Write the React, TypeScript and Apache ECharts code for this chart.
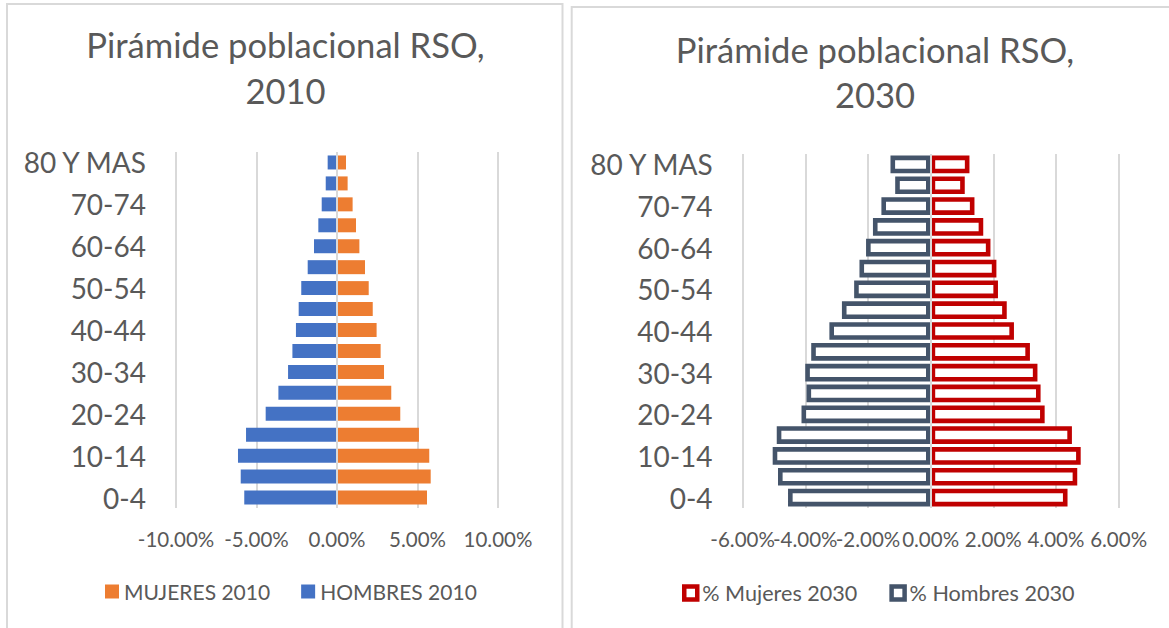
import React, { useEffect, useRef } from "react";
import * as echarts from "echarts";

const categories = ["0-4", "5-9", "10-14", "15-19", "20-24", "25-29", "30-34", "35-39", "40-44", "45-49", "50-54", "55-59", "60-64", "65-69", "70-74", "75-79", "80 Y MAS"];

const hombres2010 = [5.76, 5.98, 6.15, 5.65, 4.43, 3.64, 3.04, 2.77, 2.55, 2.38, 2.22, 1.82, 1.43, 1.16, 0.95, 0.70, 0.58];
const mujeres2010 = [5.59, 5.82, 5.73, 5.09, 3.93, 3.37, 2.92, 2.71, 2.46, 2.22, 1.97, 1.74, 1.39, 1.18, 0.97, 0.66, 0.56];
const hombres2030 = [4.55, 4.87, 5.04, 4.91, 4.12, 3.96, 4.00, 3.81, 3.23, 2.83, 2.44, 2.27, 2.06, 1.84, 1.57, 1.13, 1.28];
const mujeres2030 = [4.37, 4.68, 4.79, 4.51, 3.64, 3.51, 3.41, 3.17, 2.66, 2.43, 2.15, 2.10, 1.91, 1.68, 1.40, 1.09, 1.24];

const title1 = ["Pirámide poblacional RSO,", "2010"];
const title2 = ["Pirámide poblacional RSO,", "2030"];
const legend1 = ["MUJERES 2010", "HOMBRES 2010"];
const legend2 = ["% Mujeres 2030", "% Hombres 2030"];

const TXT = "#595959";
const GRID = "#d9d9d9";
const ORANGE = "#ED7D31";
const BLUE = "#4472C4";
const RED = "#C00000";
const SLATE = "#44546A";
const FONT = "Lato";

const pct = (v: number) => (Math.abs(v) < 1e-9 ? 0 : v).toFixed(2) + "%";

function outlineBar(color: string) {
  return (params: any, api: any) => {
    const v = api.value(0);
    const c = api.value(1);
    const a = api.coord([0, c]);
    const b = api.coord([v, c]);
    const band = api.size([0, 1])[1];
    const h = band * 0.85;
    const lw = 4.6;
    const x0 = Math.min(a[0], b[0]);
    const x1 = Math.max(a[0], b[0]);
    return {
      type: "rect",
      shape: { x: x0 + lw / 2, y: a[1] - h / 2 + lw / 2, width: Math.max(0, x1 - x0 - lw), height: h - lw },
      style: { fill: "#ffffff", stroke: color, lineWidth: lw },
    };
  };
}

export default function App() {
  const ref = useRef<HTMLDivElement>(null);
  useEffect(() => {
    if (!ref.current) return;
    const chart = echarts.init(ref.current, null, { renderer: "svg" });
    const labelBase = {
      color: TXT,
      fontSize: 20.5,
      fontFamily: FONT,
      margin: 20,
      hideOverlap: false,
    };
    const xAxisBase = (min: number, max: number, interval: number, gridIndex: number, showMin: boolean) => ({
      type: "value",
      gridIndex,
      position: "bottom",
      min,
      max,
      interval,
      axisLine: { show: false },
      axisTick: { show: false },
      splitLine: { show: true, lineStyle: { color: GRID, width: 2 } },
      axisLabel: { ...labelBase, formatter: pct, showMinLabel: showMin, showMaxLabel: true },
    });
    // second bottom axis of the right grid: carries only its first (minimum) label,
    // so that the overlapping -6.00% label is not dropped by the overlap check
    const xAxisMinOnly = (min: number, max: number, interval: number, gridIndex: number) => ({
      type: "value",
      gridIndex,
      position: "bottom",
      offset: 0,
      min,
      max,
      interval,
      axisLine: { show: false },
      axisTick: { show: false },
      splitLine: { show: false },
      axisLabel: {
        ...labelBase,
        showMinLabel: true,
        showMaxLabel: false,
        formatter: (v: number, i: number) => (i === 0 ? pct(v) : ""),
      },
    });
    const yAxisBase = (gridIndex: number) => ({
      type: "category",
      gridIndex,
      data: categories,
      axisLine: { show: false },
      axisTick: { show: false },
      splitLine: { show: false },
      axisLabel: { interval: 1, color: TXT, fontSize: 28, fontFamily: FONT, margin: 30 },
    });
    const zeroLine = {
      silent: true,
      symbol: "none",
      label: { show: false },
      lineStyle: { color: GRID, width: 2, type: "solid" },
      data: [{ xAxis: 0 }],
    };
    const titleText = (lines: string[], cx: number, y1: number, y2: number) => [
      { type: "text", x: cx, y: y1, style: { text: lines[0], fill: TXT, font: `34.6px ${FONT}`, textAlign: "center", textVerticalAlign: "middle" } },
      { type: "text", x: cx, y: y2, style: { text: lines[1], fill: TXT, font: `34.6px ${FONT}`, textAlign: "center", textVerticalAlign: "middle" } },
    ];
    chart.setOption({
      animation: false,
      textStyle: { fontFamily: FONT },
      graphic: [
        { type: "rect", shape: { x: 7, y: 4, width: 555.5, height: 700 }, style: { fill: "none", stroke: GRID, lineWidth: 2 }, silent: true },
        { type: "rect", shape: { x: 571.7, y: 7, width: 700, height: 700 }, style: { fill: "none", stroke: GRID, lineWidth: 2 }, silent: true },
        ...titleText(title1, 285.5, 44, 90),
        ...titleText(title2, 875, 49, 94.5),
      ],
      grid: [
        { left: 176, top: 152, width: 322, height: 356, containLabel: false },
        { left: 742.6, top: 154, width: 376, height: 354, containLabel: false },
      ],
      xAxis: [
        xAxisBase(-10, 10, 5, 0, true),
        xAxisBase(-6, 6, 2, 1, false),
        xAxisMinOnly(-6, 6, 2, 1),
      ],
      yAxis: [yAxisBase(0), yAxisBase(1)],
      legend: [
        {
          data: legend1,
          left: 105,
          top: 581,
          padding: 0,
          itemGap: 31,
          itemWidth: 14,
          itemHeight: 14,
          icon: "rect",
          textStyle: { color: TXT, fontSize: 21, fontFamily: FONT },
        },
        {
          data: [
            { name: legend2[0], icon: "rect", itemStyle: { color: "#ffffff", borderColor: RED, borderWidth: 4.5 } },
            { name: legend2[1], icon: "rect", itemStyle: { color: "#ffffff", borderColor: SLATE, borderWidth: 4.5 } },
          ],
          left: 682,
          top: 582,
          padding: 0,
          itemGap: 32,
          itemWidth: 13,
          itemHeight: 13,
          textStyle: { color: TXT, fontSize: 21.6, fontFamily: FONT },
        },
      ],
      series: [
        {
          name: legend1[1],
          type: "bar",
          xAxisIndex: 0,
          yAxisIndex: 0,
          data: hombres2010.map((v) => -v),
          barWidth: 14,
          barGap: "-100%",
          itemStyle: { color: BLUE },
        },
        {
          name: legend1[0],
          type: "bar",
          xAxisIndex: 0,
          yAxisIndex: 0,
          data: mujeres2010,
          barWidth: 14,
          barGap: "-100%",
          itemStyle: { color: ORANGE },
          markLine: zeroLine,
        },
        {
          name: legend2[1],
          type: "custom",
          xAxisIndex: 1,
          yAxisIndex: 1,
          encode: { x: 0, y: 1 },
          data: hombres2030.map((v, i) => [-v, i]),
          itemStyle: { color: SLATE },
          renderItem: outlineBar(SLATE),
          z: 3,
        },
        {
          name: legend2[0],
          type: "custom",
          xAxisIndex: 1,
          yAxisIndex: 1,
          encode: { x: 0, y: 1 },
          data: mujeres2030.map((v, i) => [v, i]),
          itemStyle: { color: RED },
          renderItem: outlineBar(RED),
          markLine: zeroLine,
          z: 3,
        },
      ],
    });
    return () => chart.dispose();
  }, []);
  return <div ref={ref} style={{ position: "fixed", left: 0, top: 0, width: 1169, height: 628, background: "#ffffff" }} />;
}
